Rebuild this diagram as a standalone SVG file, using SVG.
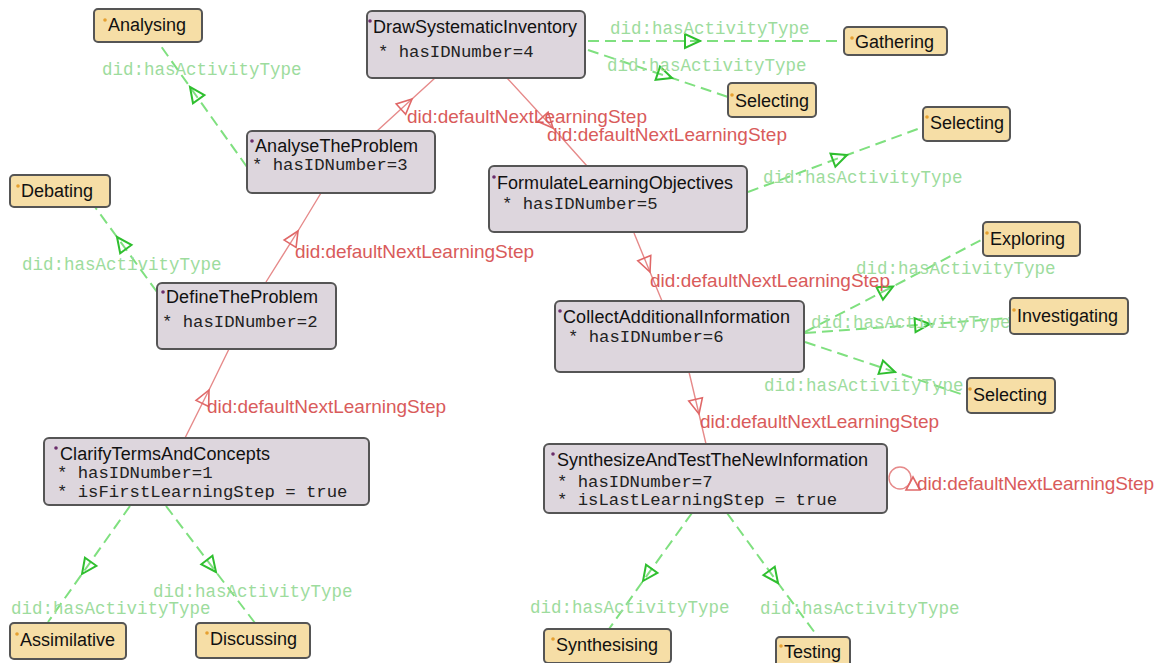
<svg xmlns="http://www.w3.org/2000/svg" width="1163" height="663" viewBox="0 0 1163 663">
<style>
.cls{fill:#ddd6dd;stroke:#555;stroke-width:2}
.ind{fill:#f6dea6;stroke:#555;stroke-width:2}
.title{font-family:"Liberation Sans",Arial,sans-serif;font-size:18px;fill:#111}
.attr{font-family:"Liberation Mono","Courier New",monospace;font-size:17.3px;fill:#222}
.bc{fill:#6b2d6b}
.bi{fill:#e6a030}
.rl{fill:none;stroke:#e68a8a;stroke-width:1.4;marker-mid:url(#ra)}
.gl{fill:none;stroke:#7fe07f;stroke-width:2;stroke-dasharray:11 6;marker-mid:url(#ga)}
.rlab{font-family:"Liberation Sans",Arial,sans-serif;font-size:19px;fill:#d95b5b}
.glab{font-family:"Liberation Mono","Courier New",monospace;font-size:17.5px;fill:#9ddc9d}
</style>
<defs>
<marker id="ra" markerUnits="userSpaceOnUse" markerWidth="20" markerHeight="20" refX="0" refY="0" orient="auto" overflow="visible">
<path d="M0,0 L-15,-7 L-15,7 Z" fill="none" stroke="#e06868" stroke-width="1.6"/>
</marker>
<marker id="ga" markerUnits="userSpaceOnUse" markerWidth="20" markerHeight="20" refX="0" refY="0" orient="auto" overflow="visible">
<path d="M0,0 L-15,-7 L-15,7 Z" fill="none" stroke="#2fbf2f" stroke-width="2"/>
</marker>
</defs>
<rect width="1163" height="663" fill="#ffffff"/>
<g id="connectors">
<path class="rl" d="M377,131 L412,99 L435,78"/>
<path class="rl" d="M507,78 L553,128 L587,166"/>
<path class="rl" d="M266,282 L298,231 L321,193"/>
<path class="rl" d="M185,438 L209,390 L229,349"/>
<path class="rl" d="M634,233 L650,272 L662,301"/>
<path class="rl" d="M689,372 L699,414 L706,444"/>
<circle cx="900" cy="478" r="11" fill="none" stroke="#e68a8a" stroke-width="1.4"/>
<polygon points="913,477 906,490 920,490" fill="none" stroke="#e06868" stroke-width="1.6"/>
<path class="gl" d="M247,167 L190,87 L158,42"/>
<path class="gl" d="M157,292 L117,237 L95,207"/>
<path class="gl" d="M588,41 L700,41 L844,41"/>
<path class="gl" d="M588,50 L672,78 L728,97"/>
<path class="gl" d="M748,192 L847,155 L923,127"/>
<path class="gl" d="M805,332 L893,286.5 L983,239"/>
<path class="gl" d="M805,333 L930,324 L1010,318"/>
<path class="gl" d="M805,342 L895,372 L967,396"/>
<path class="gl" d="M130,506 L82,574 L48,622"/>
<path class="gl" d="M166,506 L216,572 L255,623"/>
<path class="gl" d="M692,513 L643,581 L609,629"/>
<path class="gl" d="M727,513 L778,583 L818,637"/>
<text class="rlab" x="407" y="123" textLength="240">did:defaultNextLearningStep</text>
<text class="rlab" x="547" y="141" textLength="240">did:defaultNextLearningStep</text>
<text class="rlab" x="295" y="258" textLength="239">did:defaultNextLearningStep</text>
<text class="rlab" x="207" y="413" textLength="239">did:defaultNextLearningStep</text>
<text class="rlab" x="650" y="287" textLength="240">did:defaultNextLearningStep</text>
<text class="rlab" x="700" y="428" textLength="239">did:defaultNextLearningStep</text>
<text class="rlab" x="917" y="490" textLength="237">did:defaultNextLearningStep</text>
<text class="glab" x="102" y="75">did:hasActivityType</text>
<text class="glab" x="22" y="270">did:hasActivityType</text>
<text class="glab" x="610" y="34">did:hasActivityType</text>
<text class="glab" x="607" y="71">did:hasActivityType</text>
<text class="glab" x="763" y="183">did:hasActivityType</text>
<text class="glab" x="856" y="274">did:hasActivityType</text>
<text class="glab" x="811" y="328">did:hasActivityType</text>
<text class="glab" x="764" y="391">did:hasActivityType</text>
<text class="glab" x="11" y="614">did:hasActivityType</text>
<text class="glab" x="153" y="597">did:hasActivityType</text>
<text class="glab" x="530" y="613">did:hasActivityType</text>
<text class="glab" x="760" y="614">did:hasActivityType</text>
</g>
<g id="DrawSystematicInventory">
<rect class="cls" x="367" y="11" width="218" height="67" rx="5"/>
<circle class="bc" cx="370" cy="21" r="1.8"/>
<text class="title" x="373" y="33" textLength="204">DrawSystematicInventory</text>
<text class="attr" x="378" y="57">* hasIDNumber=4</text>
</g>
<g id="AnalyseTheProblem">
<rect class="cls" x="247" y="131" width="188" height="62" rx="5"/>
<circle class="bc" cx="252" cy="141" r="1.8"/>
<text class="title" x="255" y="152" textLength="163">AnalyseTheProblem</text>
<text class="attr" x="252" y="170">* hasIDNumber=3</text>
</g>
<g id="FormulateLearningObjectives">
<rect class="cls" x="489" y="166" width="258" height="66" rx="5"/>
<circle class="bc" cx="494" cy="177" r="1.8"/>
<text class="title" x="497" y="189" textLength="236">FormulateLearningObjectives</text>
<text class="attr" x="502" y="209">* hasIDNumber=5</text>
</g>
<g id="DefineTheProblem">
<rect class="cls" x="157" y="283" width="179" height="66" rx="5"/>
<circle class="bc" cx="163" cy="292" r="1.8"/>
<text class="title" x="166" y="303" textLength="152">DefineTheProblem</text>
<text class="attr" x="162" y="327">* hasIDNumber=2</text>
</g>
<g id="CollectAdditionalInformation">
<rect class="cls" x="555" y="301" width="249" height="71" rx="5"/>
<circle class="bc" cx="560" cy="311" r="1.8"/>
<text class="title" x="563" y="323" textLength="227">CollectAdditionalInformation</text>
<text class="attr" x="568" y="342">* hasIDNumber=6</text>
</g>
<g id="ClarifyTermsAndConcepts">
<rect class="cls" x="44" y="438" width="325" height="67" rx="5"/>
<circle class="bc" cx="56" cy="448" r="1.8"/>
<text class="title" x="60" y="460" textLength="210">ClarifyTermsAndConcepts</text>
<text class="attr" x="57" y="478">* hasIDNumber=1</text>
<text class="attr" x="57" y="497">* isFirstLearningStep = true</text>
</g>
<g id="SynthesizeAndTestTheNewInformation">
<rect class="cls" x="544" y="444" width="343" height="69" rx="5"/>
<circle class="bc" cx="553" cy="454" r="1.8"/>
<text class="title" x="557" y="466" textLength="311">SynthesizeAndTestTheNewInformation</text>
<text class="attr" x="557" y="487">* hasIDNumber=7</text>
<text class="attr" x="557" y="505">* isLastLearningStep = true</text>
</g>
<g id="Analysing">
<rect class="ind" x="94" y="9" width="108" height="33" rx="4"/>
<circle class="bi" cx="105" cy="20" r="1.8"/>
<text class="title" x="108" y="31">Analysing</text>
</g>
<g id="Debating">
<rect class="ind" x="10" y="175" width="100" height="32" rx="4"/>
<circle class="bi" cx="18" cy="186" r="1.8"/>
<text class="title" x="21" y="197">Debating</text>
</g>
<g id="Gathering">
<rect class="ind" x="844" y="27" width="103" height="28" rx="4"/>
<circle class="bi" cx="852" cy="38" r="1.8"/>
<text class="title" x="855" y="48">Gathering</text>
</g>
<g id="Selecting1">
<rect class="ind" x="728" y="83" width="88" height="34" rx="4"/>
<circle class="bi" cx="732" cy="95" r="1.8"/>
<text class="title" x="735" y="107">Selecting</text>
</g>
<g id="Selecting2">
<rect class="ind" x="923" y="107" width="87" height="34" rx="4"/>
<circle class="bi" cx="927" cy="117" r="1.8"/>
<text class="title" x="930" y="129">Selecting</text>
</g>
<g id="Exploring">
<rect class="ind" x="983" y="222" width="97" height="34" rx="4"/>
<circle class="bi" cx="987" cy="233" r="1.8"/>
<text class="title" x="990" y="245">Exploring</text>
</g>
<g id="Investigating">
<rect class="ind" x="1010" y="298" width="118" height="36" rx="4"/>
<circle class="bi" cx="1014" cy="310" r="1.8"/>
<text class="title" x="1017" y="322">Investigating</text>
</g>
<g id="Selecting3">
<rect class="ind" x="967" y="378" width="88" height="35" rx="4"/>
<circle class="bi" cx="970" cy="389" r="1.8"/>
<text class="title" x="973" y="401">Selecting</text>
</g>
<g id="Assimilative">
<rect class="ind" x="10" y="623" width="116" height="36" rx="4"/>
<circle class="bi" cx="17" cy="634" r="1.8"/>
<text class="title" x="20" y="646">Assimilative</text>
</g>
<g id="Discussing">
<rect class="ind" x="196" y="623" width="114" height="35" rx="4"/>
<circle class="bi" cx="207" cy="633" r="1.8"/>
<text class="title" x="210" y="645">Discussing</text>
</g>
<g id="Synthesising">
<rect class="ind" x="544" y="629" width="127" height="34" rx="4"/>
<circle class="bi" cx="553" cy="639" r="1.8"/>
<text class="title" x="556" y="651">Synthesising</text>
</g>
<g id="Testing">
<rect class="ind" x="776" y="637" width="74" height="32" rx="4"/>
<circle class="bi" cx="781" cy="646" r="1.8"/>
<text class="title" x="784" y="658">Testing</text>
</g>
</svg>
